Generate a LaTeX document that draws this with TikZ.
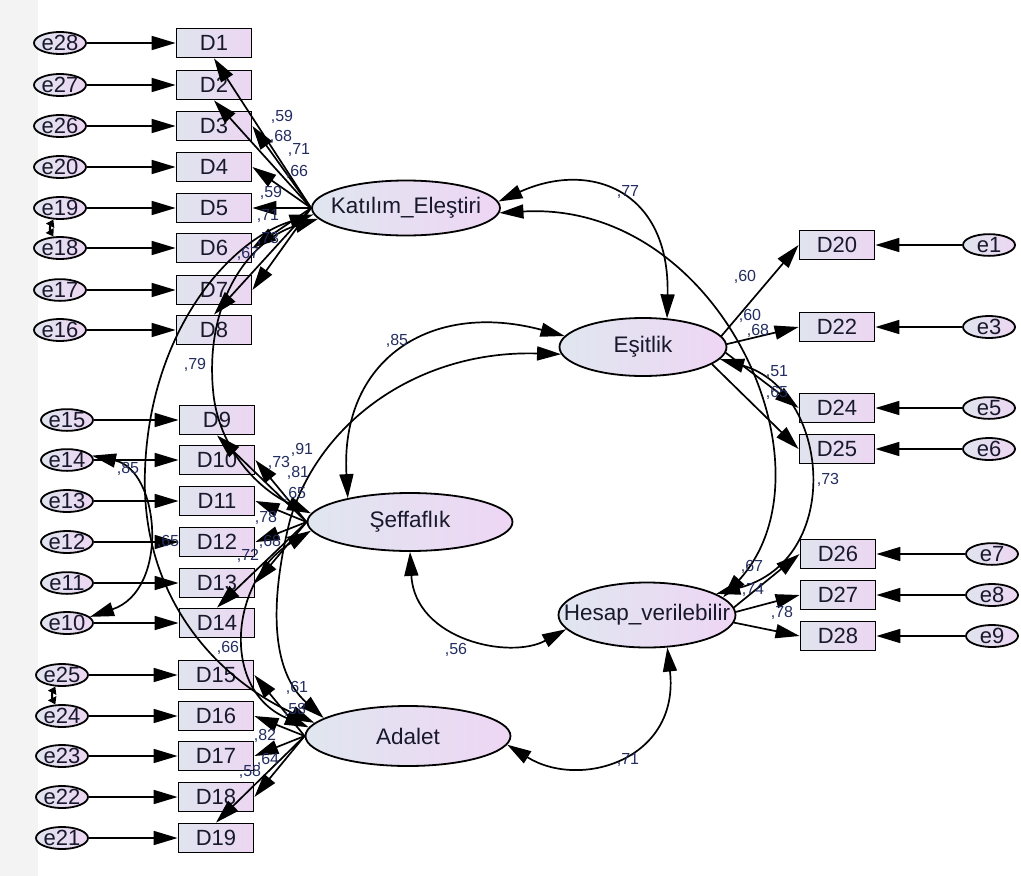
\documentclass[tikz,border=0pt]{standalone}
\usepackage{fontspec}
\setmainfont{Liberation Sans}
\usetikzlibrary{shapes.geometric,arrows.meta}
\definecolor{boxL}{RGB}{224,228,238}
\definecolor{boxR}{RGB}{236,214,242}
\definecolor{latL}{RGB}{224,230,240}
\definecolor{latR}{RGB}{238,214,244}
\definecolor{lblc}{RGB}{35,45,95}
\definecolor{txtc}{RGB}{25,25,45}
\definecolor{band}{RGB}{243,243,243}
\begin{document}
\begin{tikzpicture}[x=1pt,y=-1pt,
  obs/.style={draw=black, line width=1.8pt, rectangle, minimum width=75pt, minimum height=29pt, inner sep=0pt, left color=boxL, right color=boxR, text=txtc, font=\fontsize{22}{22}\selectfont},
  err/.style={draw=black, ellipse, line width=1.8pt, minimum width=52pt, minimum height=21pt, inner xsep=-4pt, inner ysep=0pt, left color=boxL, right color=boxR, text=txtc, font=\fontsize{22}{22}\selectfont},
  lat/.style={draw=black, ellipse, line width=1.8pt, inner sep=0pt, left color=latL, right color=latR, text=txtc, font=\fontsize{22.5}{22.5}\selectfont},
  lbl/.style={inner sep=0pt, text=lblc, font=\fontsize{16}{16}\selectfont},
  arr/.style={line width=1.7pt, -{Triangle[length=24pt,width=14pt]}},
  cov/.style={line width=1.7pt, {Triangle[length=24pt,width=14pt]}-{Triangle[length=24pt,width=14pt]}},
  covs/.style={line width=2.2pt, {Triangle[length=7pt,width=9pt]}-{Triangle[length=7pt,width=9pt]}}
]
\useasboundingbox (0,0) rectangle (1021,876);
\fill[band] (0,0) rectangle (38,876);

% latent variables
\node[lat, minimum width=188pt, minimum height=55pt] (K) at (406,208) {\makebox[0pt]{Katılım\_Eleştiri}};
\node[lat, minimum width=167pt, minimum height=58pt] (E) at (643,347) {\makebox[0pt]{Eşitlik}};
\node[lat, minimum width=205pt, minimum height=58pt] (S) at (410,522) {\makebox[0pt]{Şeffaflık}};
\node[lat, minimum width=177pt, minimum height=65pt] (H) at (647,615) {\makebox[0pt]{Hesap\_verilebilir}};
\node[lat, minimum width=205pt, minimum height=60pt] (A) at (408,736) {\makebox[0pt]{Adalet}};

% left indicators and errors
\foreach \e/\d/\y in {e28/D1/43, e27/D2/85, e26/D3/126, e20/D4/167, e19/D5/208, e18/D6/248, e17/D7/290, e16/D8/330}{
  \node[err] (\e) at (60,\y) {\e};
  \node[obs] (\d) at (214,\y) {\d};
  \draw[arr] (\e) -- (\d);
}
\foreach \e/\d/\y in {e15/D9/420, e14/D10/460, e13/D11/501, e12/D12/542, e11/D13/583, e10/D14/623}{
  \node[err] (\e) at (67,\y) {\e};
  \node[obs] (\d) at (217,\y) {\d};
  \draw[arr] (\e) -- (\d);
}
\foreach \e/\d/\y in {e25/D15/675, e24/D16/716, e23/D17/756, e22/D18/797, e21/D19/838}{
  \node[err] (\e) at (62,\y) {\e};
  \node[obs] (\d) at (216,\y) {\d};
  \draw[arr] (\e) -- (\d);
}
% right indicators and errors
\foreach \e/\d/\y in {e1/D20/245, e3/D22/327, e5/D24/408, e6/D25/449}{
  \node[err] (\e) at (989,\y) {\e};
  \node[obs] (\d) at (837,\y) {\d};
  \draw[arr] (\e) -- (\d);
}
\foreach \e/\d/\y in {e7/D26/554, e8/D27/595, e9/D28/636}{
  \node[err] (\e) at (992,\y) {\e};
  \node[obs] (\d) at (838,\y) {\d};
  \draw[arr] (\e) -- (\d);
}

% loadings
\draw[arr] (K.west) -- (D1.south);
\draw[arr] (K.west) -- (D2.south);
\draw[arr] (K.west) -- (D3.east);
\draw[arr] (K.west) -- (D4.east);
\draw[arr] (K.west) -- (D5.east);
\draw[arr] (K.west) -- (D6.east);
\draw[arr] (K.west) -- (D7.east);
\draw[arr] (K.west) -- (D8.north);

\draw[arr] (S.west) -- (D9.south);
\draw[arr] (S.west) -- (D10.east);
\draw[arr] (S.west) -- (D11.east);
\draw[arr] (S.west) -- (D12.east);
\draw[arr] (S.west) -- (D13.east);
\draw[arr] (S.west) -- (D14.north);

\draw[arr] (A.west) -- (D15.east);
\draw[arr] (A.west) -- (D16.east);
\draw[arr] (A.west) -- (D17.east);
\draw[arr] (A.west) -- (D18.east);
\draw[arr] (A.west) -- (D19.north);

\draw[arr] (E.8) -- (D20.west);
\draw[arr] (E.2) -- (D22.west);
\draw[arr] (E.-4) -- (D24.west);
\draw[arr] (E.-14) -- (D25.west);

\draw[arr] (H.5) -- (D26.west);
\draw[arr] (H.2) -- (D27.west);
\draw[arr] (H.-5) -- (D28.west);

% covariances between factors
\draw[cov] (K.4) .. controls (590,160) and (670,190) .. (E.50);
\draw[cov] (K.-3) .. controls (720,200) and (840,470) .. (H.13);
\draw[cov] (E.-9) .. controls (830,390) and (845,560) .. (H.17);
\draw[cov] (E.172) .. controls (430,300) and (340,360) .. (S.159);
\draw[cov] (E.185) .. controls (420,350) and (320,420) .. (290,520) .. controls (270,600) and (270,670) .. (A.168);
\draw[cov] (S.south) .. controls (415,640) and (510,660) .. (H.190);
\draw[cov] (A.-5) .. controls (580,790) and (680,760) .. (H.-58);
\draw[cov] (S.185) .. controls (230,580) and (220,690) .. (A.175);
\draw[cov] (K.187) .. controls (250,240) and (205,300) .. (213,390) .. controls (218,450) and (260,490) .. (S.175);
\draw[cov] (K.184) .. controls (230,240) and (150,330) .. (145,470) .. controls (140,600) and (220,680) .. (A.172);

% error covariances
\draw[covs] (e19.240) .. controls (50,226) and (50,231) .. (e18.120);
\draw[covs] (e25.240) .. controls (52,693) and (52,698) .. (e24.120);
\draw[cov] (e14.10) .. controls (160,470) and (170,590) .. (e10.15);

% coefficient labels
\node[lbl] (k1) at (282,117) {,59};
\node[lbl] (k2) at (281,137) {,68};
\node[lbl] (k3) at (299,150) {,71};
\node[lbl] (k4) at (297,172) {,66};
\node[lbl] (k5) at (271,193) {,59};
\node[lbl] (k6) at (268,216) {,71};
\node[lbl] (k7) at (268,239) {,73};
\node[lbl] (k8) at (248,254) {,67};
\node[lbl] (c79) at (195,365) {,79};

\node[lbl] (s1) at (279,463) {,73};
\node[lbl] (s2) at (302,450) {,91};
\node[lbl] (s3) at (298,473) {,81};
\node[lbl] (s4) at (295,494) {,65};
\node[lbl] (s5) at (266,518) {,78};
\node[lbl] (s6) at (270,542) {,68};
\node[lbl] (s7) at (248,556) {,72};
\node[lbl] (c85e) at (128,469) {,85};
\node[lbl] (c65) at (168,542) {,65};
\node[lbl] (c66) at (228,648) {,66};

\node[lbl] (a1) at (297,688) {,61};
\node[lbl] (a2) at (295,710) {,58};
\node[lbl] (a3) at (265,736) {,82};
\node[lbl] (a4) at (268,760) {,64};
\node[lbl] (a5) at (250,772) {,58};

\node[lbl] (c77) at (628,192) {,77};
\node[lbl] (c85) at (397,341) {,85};
\node[lbl] (c56) at (456,650) {,56};
\node[lbl] (c71) at (628,760) {,71};

\node[lbl] (q1) at (745,277) {,60};
\node[lbl] (q2) at (750,316) {,60};
\node[lbl] (q3) at (758,331) {,68};
\node[lbl] (q4) at (777,372) {,51};
\node[lbl] (q5) at (777,393) {,65};
\node[lbl] (c73) at (828,480) {,73};

\node[lbl] (h1) at (752,567) {,67};
\node[lbl] (h2) at (753,590) {,74};
\node[lbl] (h3) at (782,613) {,78};
\end{tikzpicture}
\end{document}
